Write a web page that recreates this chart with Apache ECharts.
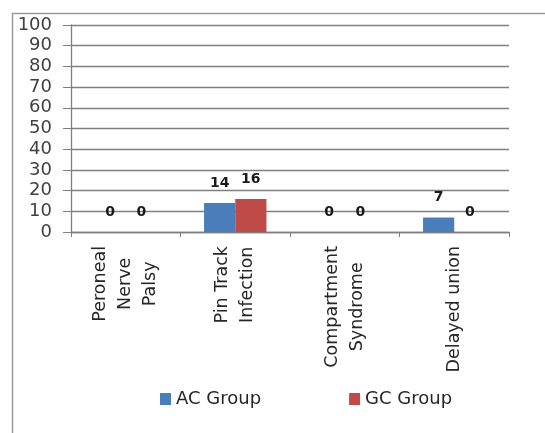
<!DOCTYPE html>
<html>
<head>
<meta charset="utf-8">
<title>Complications</title>
<script src="https://cdn.jsdelivr.net/npm/echarts@6/dist/echarts.min.js"></script>
<style>
  html, body { margin: 0; padding: 0; background: #ffffff; }
  #chart { width: 545px; height: 433px; }
</style>
</head>
<body>
<div id="chart"></div>
<script>
// chart values
var categories = ['Peroneal\nNerve\nPalsy', 'Pin Track\nInfection', 'Compartment\nSyndrome', 'Delayed union'];
var acGroup = [0, 14, 0, 7];
var gcGroup = [0, 16, 0, 0];
var seriesNames = ['AC Group', 'GC Group'];
var yTicks = { min: 0, max: 100, step: 10 };

var theChart;

// each line of a category label gets centred inside the rotated block
function centredLines(value) {
  return value.split('\n').map(function (l) { return '{c|' + l + '}'; }).join('\n');
}

function makeBarSeries(name, values, color) {
  return {
    name: name,
    type: 'bar',
    data: values,
    barGap: 0,
    barCategoryGap: '43%',
    itemStyle: { color: color },
    label: {
      show: true,
      position: 'top',
      distance: 13,
      fontFamily: 'DejaVu Sans',
      fontWeight: 'bold',
      fontSize: 14,
      color: '#1a1a1a'
    }
  };
}

function createChart(divId) {
  theChart = echarts.init(document.getElementById(divId));

  let option = {
    animation: false,
    textStyle: { fontFamily: 'DejaVu Sans' },
    grid: { left: 71, right: 36, top: 25, bottom: 201, containLabel: false },
    graphic: [{
      type: 'rect',
      left: 10, top: 11,
      shape: { width: 600, height: 500 },
      style: { fill: 'none', stroke: '#9a9a9a', lineWidth: 1.5 },
      silent: true
    }],
    legend: {
      left: 155, top: 385,
      itemWidth: 11, itemHeight: 12, itemGap: 88,
      icon: 'rect',
      selectedMode: false,
      textStyle: { fontSize: 18, color: '#262626', fontFamily: 'DejaVu Sans' },
      data: seriesNames
    },
    xAxis: {
      type: 'category',
      data: categories,
      axisLine: { show: true, lineStyle: { color: '#7f7f7f', width: 1.3 } },
      axisTick: { show: true, alignWithLabel: false, length: 5, lineStyle: { color: '#7f7f7f' } },
      axisLabel: {
        interval: 0,
        rotate: 90,
        margin: 14,
        formatter: centredLines,
        rich: {
          c: { align: 'center', fontSize: 17.5, lineHeight: 25, color: '#262626', fontFamily: 'DejaVu Sans' }
        }
      }
    },
    yAxis: {
      type: 'value',
      min: yTicks.min, max: yTicks.max, interval: yTicks.step,
      axisLine: { show: true, lineStyle: { color: '#7f7f7f', width: 1.3 } },
      axisTick: { show: true, length: 8, lineStyle: { color: '#7f7f7f' } },
      splitLine: { show: true, lineStyle: { color: '#7f7f7f', width: 1.3 } },
      axisLabel: { margin: 19, fontSize: 18, color: '#404040', fontFamily: 'DejaVu Sans' }
    },
    series: [
      makeBarSeries(seriesNames[0], acGroup, '#4a7ebb'),
      makeBarSeries(seriesNames[1], gcGroup, '#be4b48')
    ]
  };
  theChart.setOption(option);
}

createChart('chart');
</script>
</body>
</html>
